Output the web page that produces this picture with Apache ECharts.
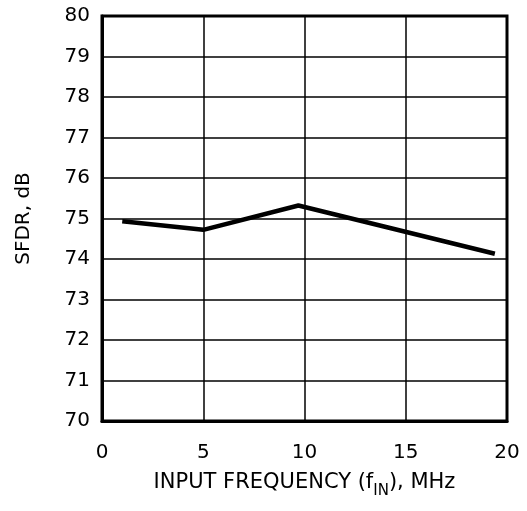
<!DOCTYPE html>
<html>
<head>
<meta charset="utf-8">
<script src="https://cdn.jsdelivr.net/npm/echarts@6/dist/echarts.min.js"></script>
<style>
  html, body { margin: 0; padding: 0; background: #fff; }
  #chart { width: 527px; height: 511px; }
</style>
</head>
<body>
<div id="chart"></div>
<script>
// input frequency (MHz) and SFDR (dB)
const freqMHz = [1, 5, 9.7, 19.4]
const sfdrDb = [74.93, 74.72, 75.32, 74.13]

const xTicks = [0, 5, 10, 15, 20]
const yTicks = [70, 71, 72, 73, 74, 75, 76, 77, 78, 79, 80]

const font = 'DejaVu Sans'

const chart = echarts.init(document.getElementById('chart'))

const option = {
  animation: false,
  grid: {
    left: 102,
    right: 20,
    top: 16,
    bottom: 90,
    show: true,
    borderColor: '#000',
    borderWidth: 3,
  },
  xAxis: {
    type: 'value',
    min: xTicks[0],
    max: xTicks[xTicks.length - 1],
    interval: 5,
    axisLine: { lineStyle: { color: '#000', width: 3 } },
    axisTick: { show: false },
    splitLine: { lineStyle: { color: '#000', width: 1.5 } },
    axisLabel: { color: '#000', fontFamily: font, fontSize: 20, margin: 22 },
    name: '{a|INPUT FREQUENCY (f}{sub|IN}{a|), MHz}',
    nameLocation: 'middle',
    nameGap: 45,
    nameTextStyle: {
      rich: {
        a: { color: '#000', fontFamily: font, fontSize: 21 },
        sub: { color: '#000', fontFamily: font, fontSize: 15, padding: [18, 0, 0, 0] },
      },
    },
  },
  yAxis: {
    type: 'value',
    min: yTicks[0],
    max: yTicks[yTicks.length - 1],
    interval: 1,
    axisLine: { lineStyle: { color: '#000', width: 3 } },
    axisTick: { show: false },
    splitLine: { lineStyle: { color: '#000', width: 1.5 } },
    axisLabel: { color: '#000', fontFamily: font, fontSize: 20, margin: 12 },
    name: 'SFDR, dB',
    nameLocation: 'middle',
    nameGap: 68,
    nameTextStyle: { color: '#000', fontFamily: font, fontSize: 20 },
  },
  series: [
    {
      type: 'line',
      data: freqMHz.map((f, i) => [f, sfdrDb[i]]),
      symbol: 'none',
      lineStyle: { color: '#000', width: 4.5 },
    },
  ],
}

chart.setOption(option)
</script>
</body>
</html>
